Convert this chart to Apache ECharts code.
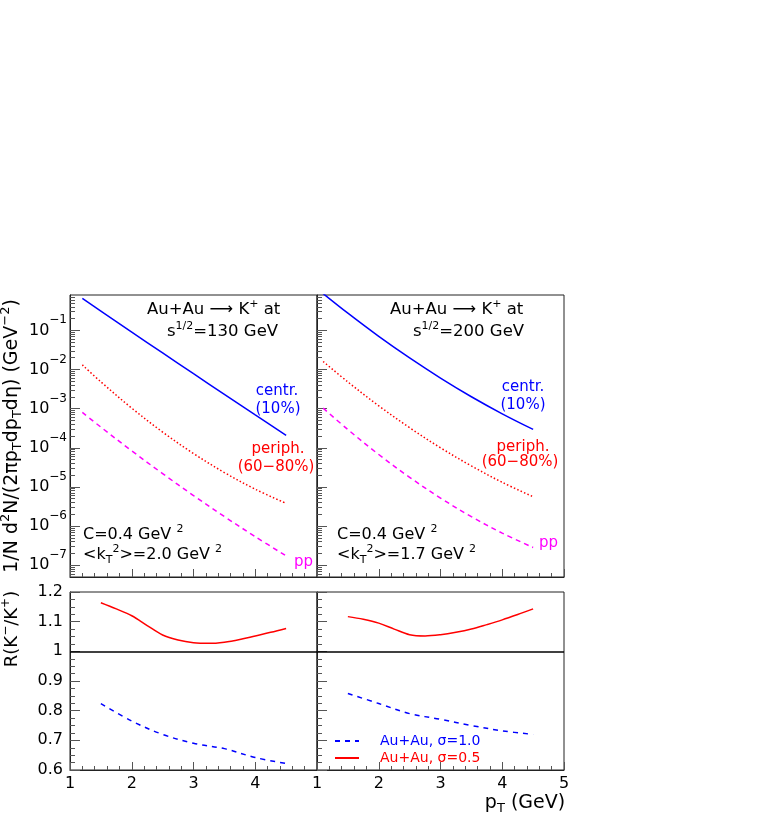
<!DOCTYPE html>
<html>
<head>
<meta charset="utf-8">
<script src="https://cdn.jsdelivr.net/npm/echarts@6/dist/echarts.min.js"></script>
<style>
  html, body { margin: 0; padding: 0; background: #fff; }
  #main { width: 761px; height: 830px; }
</style>
</head>
<body>
<div id="main"></div>
<script>
// spectra, sqrt(s)=130 GeV
const pt130 = [1.2, 1.5, 2.0, 2.5, 3.0, 3.5, 4.0, 4.5];
const centr130 = [0.652, 0.310, 0.0902, 0.0265, 0.00782, 0.00232, 6.93e-4, 2.09e-4];
const periph130 = [1.31e-2, 4.83e-3, 1.03e-3, 2.52e-4, 7.13e-5, 2.33e-5, 8.75e-6, 3.80e-6];
const pp130 = [8.0e-4, 3.37e-4, 8.36e-5, 2.19e-5, 6.03e-6, 1.75e-6, 5.37e-7, 1.73e-7];

// spectra, sqrt(s)=200 GeV
const pt200 = [1.1, 1.5, 2.0, 2.5, 3.0, 3.5, 4.0, 4.5];
const centr200 = [0.867, 0.274, 0.0701, 0.0197, 6.03e-3, 2.01e-3, 7.36e-4, 2.94e-4];
const periph200 = [1.60e-2, 4.81e-3, 1.18e-3, 3.26e-4, 1.0e-4, 3.44e-5, 1.31e-5, 5.62e-6];
const pp200 = [1.03e-3, 2.92e-4, 6.73e-5, 1.76e-5, 5.2e-6, 1.74e-6, 6.61e-7, 2.84e-7];

// K-/K+ ratios
const ptR05 = [1.5, 1.75, 2.0, 2.25, 2.5, 2.75, 3.0, 3.25, 3.5, 3.75, 4.0, 4.25, 4.5];
const r05_130 = [1.164, 1.143, 1.12, 1.087, 1.055, 1.038, 1.029, 1.027, 1.031, 1.040, 1.052, 1.064, 1.077];
const r05_200 = [1.117, 1.108, 1.095, 1.075, 1.056, 1.052, 1.056, 1.064, 1.075, 1.090, 1.106, 1.124, 1.143];
const ptR10 = [1.5, 2.0, 2.5, 3.0, 3.5, 4.0, 4.5];
const r10_130 = [0.824, 0.765, 0.720, 0.690, 0.672, 0.642, 0.622];
const r10_200 = [0.858, 0.824, 0.790, 0.771, 0.750, 0.732, 0.720];

const logMajor = [1e-7, 1e-6, 1e-5, 1e-4, 1e-3, 1e-2, 1e-1];

const FONT = 'DejaVu Sans';
const BLUE = '#0000ff', RED = '#ff0000', MAG = '#ff00ff';
const TICK = '#555';

let logMinor = [];
for (let e = -8; e <= -1; e++) {
  for (let k = 2; k <= 9; k++) {
    const v = k * Math.pow(10, e);
    if (v > 5e-8 && v < 0.8) logMinor.push(v);
  }
}

function pairs(xs, ys) {
  return xs.map((x, i) => [x, ys[i]]);
}

var myChart = echarts.init(document.getElementById('main'));

const grids = [
  { left: 70, top: 295, width: 247, height: 282 },
  { left: 317, top: 295, width: 247, height: 282 },
  { left: 70, top: 592, width: 247, height: 178 },
  { left: 317, top: 592, width: 247, height: 178 }
].map(g => Object.assign(g, { show: true, borderColor: '#222', borderWidth: 1 }));

function xAx(gi, labels, hideMax) {
  return {
    type: 'value', gridIndex: gi, min: 1, max: 5, interval: 1,
    axisLine: { show: true, lineStyle: { color: '#222' } },
    axisTick: { show: true, inside: true, length: 8, lineStyle: { color: TICK } },
    minorTick: { show: true, splitNumber: 5, length: 4, lineStyle: { color: TICK } },
    splitLine: { show: false },
    axisLabel: {
      show: labels, showMaxLabel: !hideMax, margin: 6,
      fontFamily: FONT, fontSize: 16, color: '#000'
    }
  };
}

const supRich = {
  b: { fontFamily: FONT, fontSize: 16, color: '#000', lineHeight: 32, verticalAlign: 'middle' },
  s: { fontFamily: FONT, fontSize: 12, color: '#000', lineHeight: 12, verticalAlign: 'top' }
};

function logAx(gi, labels) {
  return {
    type: 'log', gridIndex: gi, min: 5e-8, max: 0.8, position: 'left',
    axisLine: { show: true, lineStyle: { color: '#222' } },
    axisTick: { show: true, inside: true, length: 10, customValues: logMajor, lineStyle: { color: TICK } },
    splitLine: { show: false },
    axisLabel: {
      show: labels, customValues: logMajor, margin: 3,
      formatter: function (v) {
        const e = Math.round(Math.log10(v));
        return '{b|10}{s|\u2212' + (-e) + '}';
      },
      rich: supRich
    }
  };
}

function logMinorAx(gi) {
  return {
    type: 'log', gridIndex: gi, min: 5e-8, max: 0.8, position: 'left',
    axisLine: { show: false },
    axisTick: { show: true, inside: true, length: 5, customValues: logMinor, lineStyle: { color: TICK } },
    splitLine: { show: false },
    axisLabel: { show: false }
  };
}

function ratioAx(gi, labels) {
  return {
    type: 'value', gridIndex: gi, min: 0.6, max: 1.2, interval: 0.1, position: 'left',
    axisLine: { show: true, lineStyle: { color: '#222' } },
    axisTick: { show: true, inside: true, length: 10, lineStyle: { color: TICK } },
    minorTick: { show: true, splitNumber: 4, length: 5, lineStyle: { color: TICK } },
    splitLine: { show: false },
    axisLabel: {
      show: labels, margin: 7, fontFamily: FONT, fontSize: 16, color: '#000',
      formatter: v => String(Math.round(v * 10) / 10)
    }
  };
}

function line(name, xi, yi, xs, ys, color, dash, width) {
  return {
    type: 'line', name: name, xAxisIndex: xi, yAxisIndex: yi,
    data: pairs(xs, ys), smooth: 0.35, symbol: 'none', showSymbol: false,
    lineStyle: { color: color, width: width || 1.5, type: dash },
    itemStyle: { color: color },
    silent: true, animation: false
  };
}

const oneLine = {
  silent: true, symbol: 'none', label: { show: false },
  lineStyle: { color: '#000', type: 'solid', width: 1.5 },
  data: [{ yAxis: 1 }]
};

// graphic text with super/subscripts
function rich(color, size) {
  const small = Math.round(size * 0.68);
  return {
    sup: { fontFamily: FONT, fontSize: small, fill: color, lineHeight: small, verticalAlign: 'top' },
    sub: { fontFamily: FONT, fontSize: small, fill: color, lineHeight: small, verticalAlign: 'bottom' }
  };
}
function txt(x, y, text, color, size, align, rot) {
  return {
    type: 'text', x: x, y: y, rotation: rot || 0, silent: true,
    style: {
      text: text, fill: color, fontFamily: FONT, fontSize: size, lineHeight: size + 6,
      textAlign: align || 'left', textVerticalAlign: 'middle', rich: rich(color, size)
    }
  };
}

const texts = [
  // left panel
  txt(147, 310, 'Au+Au \u27f6 K{sup|+} at', '#000', 16.5),
  txt(167, 332, 's{sup|1/2}=130 GeV', '#000', 16.5),
  txt(277, 391, 'centr.', BLUE, 15, 'center'),
  txt(278, 409, '(10%)', BLUE, 15, 'center'),
  txt(278, 449, 'periph.', RED, 15, 'center'),
  txt(276, 467, '(60\u221280%)', RED, 15, 'center'),
  txt(294, 562, 'pp', MAG, 15),
  txt(83, 535, 'C=0.4 GeV {sup|2}', '#000', 16),
  txt(83, 555, '<k{sub|T}{sup|2}>=2.0 GeV {sup|2}', '#000', 16),
  // right panel
  txt(390, 310, 'Au+Au \u27f6 K{sup|+} at', '#000', 16.5),
  txt(413, 332, 's{sup|1/2}=200 GeV', '#000', 16.5),
  txt(523, 387, 'centr.', BLUE, 15, 'center'),
  txt(523, 405, '(10%)', BLUE, 15, 'center'),
  txt(523, 447, 'periph.', RED, 15, 'center'),
  txt(520, 462, '(60\u221280%)', RED, 15, 'center'),
  txt(539, 543, 'pp', MAG, 15),
  txt(337, 535, 'C=0.4 GeV {sup|2}', '#000', 16),
  txt(337, 555, '<k{sub|T}{sup|2}>=1.7 GeV {sup|2}', '#000', 16),
  // axis titles
  txt(12, 436, '1/N d{sup|2}N/(2\u03c0p{sub|T}dp{sub|T}d\u03b7) (GeV{sup|\u22122})', '#000', 19, 'center', Math.PI / 2),
  txt(12, 629, 'R(K{sup|\u2212}/K{sup|+})', '#000', 18, 'center', Math.PI / 2),
  txt(525, 803, 'p{sub|T} (GeV)', '#000', 19, 'center')
];

myChart.setOption({
  animation: false,
  backgroundColor: '#fff',
  grid: grids,
  xAxis: [xAx(0, false), xAx(1, false), xAx(2, true, true), xAx(3, true)],
  yAxis: [logAx(0, true), logMinorAx(0), logAx(1, false), logMinorAx(1), ratioAx(2, true), ratioAx(3, false)],
  legend: {
    orient: 'vertical', left: 334, top: 734, padding: 0,
    itemWidth: 24, itemHeight: 12, itemGap: 3,
    selectedMode: false,
    itemStyle: { opacity: 0 },
    textStyle: { fontFamily: FONT, fontSize: 14, padding: [0, 0, 0, 16] },
    data: [
      { name: 'Au+Au, \u03c3=1.0', textStyle: { color: BLUE } },
      { name: 'Au+Au, \u03c3=0.5', textStyle: { color: RED } }
    ]
  },
  series: [
    line('centr130', 0, 0, pt130, centr130, BLUE, 'solid'),
    line('periph130', 0, 0, pt130, periph130, RED, [1.5, 2.2]),
    line('pp130', 0, 0, pt130, pp130, MAG, [5, 4]),
    line('centr200', 1, 2, pt200, centr200, BLUE, 'solid'),
    line('periph200', 1, 2, pt200, periph200, RED, [1.5, 2.2]),
    line('pp200', 1, 2, pt200, pp200, MAG, [5, 4]),
    Object.assign(line('Au+Au, \u03c3=0.5', 2, 4, ptR05, r05_130, RED, 'solid'), { markLine: oneLine }),
    line('Au+Au, \u03c3=1.0', 2, 4, ptR10, r10_130, BLUE, [5, 5]),
    Object.assign(line('Au+Au, \u03c3=0.5', 3, 5, ptR05, r05_200, RED, 'solid'), { markLine: oneLine }),
    line('Au+Au, \u03c3=1.0', 3, 5, ptR10, r10_200, BLUE, [5, 5])
  ],
  graphic: { elements: texts }
});
</script>
</body>
</html>
